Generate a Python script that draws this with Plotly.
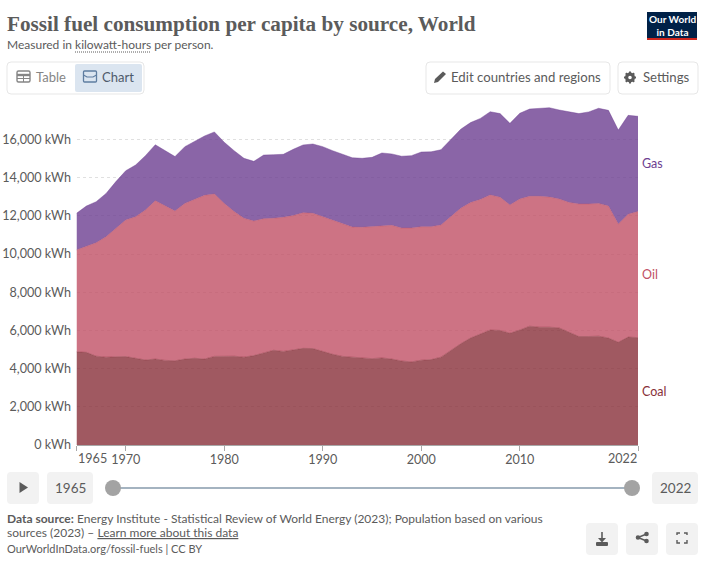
import plotly.graph_objects as go

W, H = 705, 561

years = list(range(1965, 2023))
coal = [4880, 4850, 4650, 4600, 4620, 4630, 4540, 4450, 4500, 4430, 4410, 4500, 4540, 4500, 4640,
        4660, 4650, 4600, 4680, 4820, 4960, 4900, 5000, 5060, 5050, 4880, 4750, 4640, 4600, 4540,
        4520, 4560, 4500, 4400, 4350, 4440, 4470, 4600, 4950, 5300, 5600, 5800, 6020, 6000, 5850,
        6020, 6220, 6170, 6170, 6130, 5900, 5680, 5680, 5700, 5600, 5380, 5650, 5620]
oil = [5330, 5570, 5940, 6300, 6720, 7150, 7410, 7850, 8290, 8080, 7840, 8150, 8340, 8570, 8500,
       7990, 7570, 7270, 7050, 7030, 6910, 7020, 7010, 7100, 7080, 7070, 6980, 6930, 6810, 6860,
       6910, 6930, 7000, 6960, 7010, 6990, 6960, 6920, 7000, 7090, 7090, 7060, 7070, 6970, 6720,
       6860, 6800, 6850, 6810, 6750, 6800, 6940, 6940, 6950, 6910, 6190, 6430, 6610]
gas = [1920, 2090, 2150, 2270, 2450, 2580, 2710, 2850, 2930, 2900, 2850, 2970, 3000, 3110, 3250,
       3200, 3190, 3140, 3120, 3330, 3330, 3300, 3470, 3550, 3630, 3670, 3680, 3650, 3630, 3610,
       3630, 3800, 3740, 3760, 3790, 3910, 3920, 3940, 4020, 4140, 4190, 4240, 4360, 4380, 4270,
       4490, 4570, 4620, 4680, 4660, 4740, 4730, 4820, 4980, 5010, 4920, 5180, 4980]

y_ticks = [0, 2000, 4000, 6000, 8000, 10000, 12000, 14000, 16000]
y_ticktext = ["0 kWh", "2,000 kWh", "4,000 kWh", "6,000 kWh", "8,000 kWh", "10,000 kWh", "12,000 kWh",
              "14,000 kWh", "16,000 kWh"]
x_ticks = [1965, 1970, 1980, 1990, 2000, 2010, 2022]
x_ticktext = ["", "1970", "1980", "1990", "2000", "2010", ""]

FONT = "Lato"
GREY = "#5b5b5b"
BTN = "#f2f2f2"
BORDER = "#e7e7e7"


# pixel helpers, everything outside the plot is placed in page pixels
def fx(x):
    return x / W


def fy(y):
    return 1 - y / H


def rrect(x0, y0, x1, y1, r=4, fill=None, line=None, width=1):
    p = (f"M{fx(x0 + r)},{fy(y0)} L{fx(x1 - r)},{fy(y0)} Q{fx(x1)},{fy(y0)} {fx(x1)},{fy(y0 + r)} "
         f"L{fx(x1)},{fy(y1 - r)} Q{fx(x1)},{fy(y1)} {fx(x1 - r)},{fy(y1)} "
         f"L{fx(x0 + r)},{fy(y1)} Q{fx(x0)},{fy(y1)} {fx(x0)},{fy(y1 - r)} "
         f"L{fx(x0)},{fy(y0 + r)} Q{fx(x0)},{fy(y0)} {fx(x0 + r)},{fy(y0)} Z")
    return dict(type="path", xref="paper", yref="paper", path=p,
                fillcolor=fill or "rgba(0,0,0,0)", line=dict(color=line or "rgba(0,0,0,0)", width=width))


def poly(pts, fill=None, line=None, width=1, close=True):
    p = "M" + " L".join(f"{fx(a)},{fy(b)}" for a, b in pts) + (" Z" if close else "")
    return dict(type="path", xref="paper", yref="paper", path=p,
                fillcolor=fill or "rgba(0,0,0,0)", line=dict(color=line or "rgba(0,0,0,0)", width=width))


def seg(x0, y0, x1, y1, color, width=1, dash="solid"):
    return dict(type="line", xref="paper", yref="paper", x0=fx(x0), y0=fy(y0), x1=fx(x1), y1=fy(y1),
                line=dict(color=color, width=width, dash=dash))


def dot(cx, cy, r, color):
    return dict(type="circle", xref="paper", yref="paper", x0=fx(cx - r), x1=fx(cx + r),
                y0=fy(cy + r), y1=fy(cy - r), fillcolor=color, line=dict(width=0))


def txt(x, y, s, size=13, color=GREY, anchor="left", family=FONT):
    # left anchored annotations land 1px to the right
    if anchor == "left":
        x = x - 1
    return dict(xref="paper", yref="paper", x=fx(x), y=fy(y), text=s, showarrow=False, xanchor=anchor,
                yanchor="middle", borderpad=0, font=dict(family=family, size=size, color=color),
                align="center" if anchor == "center" else "left")


fig = go.Figure()
for name, vals, fill in [("Coal", coal, "rgba(136,48,57,0.8)"),
                         ("Oil", oil, "rgba(193,80,101,0.8)"),
                         ("Gas", gas, "rgba(109,62,145,0.8)")]:
    fig.add_trace(go.Scatter(x=years, y=vals, name=name, mode="lines", stackgroup="one",
                             line=dict(width=0.5, color=fill), fillcolor=fill))

shapes = [
    rrect(7, 62, 144, 94, 4, "white", BORDER),
    rrect(75, 64, 142, 92, 2, "#dbe5f0"),
    rrect(17, 71, 30, 82, 1.5, None, "#858585", 1.4),
    seg(17, 75, 30, 75, "#858585", 2.4),
    seg(17, 78.5, 30, 78.5, "#858585", 1),
    seg(23.5, 74, 23.5, 82, "#858585", 1),
    rrect(83.5, 71, 96.5, 82, 1, None, "#5f7da0", 1.3),
    poly([(83.5, 75), (87, 77), (93, 77), (96.5, 75)], None, "#5f7da0", 1.2, close=False),
    rrect(426, 62, 610, 94, 4, "white", BORDER),
    rrect(618, 62, 698, 94, 4, "white", BORDER),
    poly([(434, 83), (435, 79), (443, 71.5), (446, 74), (438, 82)], "#5b5b5b"),
    dot(630, 77.5, 5, "#5b5b5b"),
    seg(630, 71.5, 630, 83.5, "#5b5b5b", 2),
    seg(624, 77.5, 636, 77.5, "#5b5b5b", 2),
    seg(625.8, 73.3, 634.2, 81.7, "#5b5b5b", 2),
    seg(625.8, 81.7, 634.2, 73.3, "#5b5b5b", 2),
    dot(630, 77.5, 1.8, "white"),
    dict(type="rect", xref="paper", yref="paper", x0=fx(647), x1=fx(697), y0=fy(40), y1=fy(12),
         fillcolor="#002147", line=dict(width=0)),
    dict(type="rect", xref="paper", yref="paper", x0=fx(647), x1=fx(697), y0=fy(40), y1=fy(38),
         fillcolor="#ce261e", line=dict(width=0)),
    seg(75, 52, 151, 52, "#5b5b5b", 1, "1px,1px"),
    rrect(7, 472, 39, 504, 4, BTN),
    poly([(19.5, 482), (28, 487.5), (19.5, 493)], "#5b5b5b"),
    rrect(47, 472, 93, 504, 4, BTN),
    rrect(652, 472, 698, 504, 4, BTN),
    seg(113, 488, 632, 488, "#a4b3c0", 2),
    dot(113, 488, 8, "#a3a3a3"),
    dot(632, 488, 8, "#a3a3a3"),
    rrect(586, 523, 618, 555, 4, BTN),
    rrect(626, 523, 658, 555, 4, BTN),
    rrect(666, 523, 698, 555, 4, BTN),
    seg(602, 532, 602, 541, "#5b5b5b", 1.6),
    poly([(598, 538), (602, 542.5), (606, 538)], "#5b5b5b"),
    rrect(596, 542, 608, 546, 1, "#5b5b5b"),
    seg(638, 537.5, 646.5, 534, "#5b5b5b", 1.4),
    seg(638, 537.5, 646.5, 541, "#5b5b5b", 1.4),
    dot(638, 537.5, 2.3, "#5b5b5b"),
    dot(646.5, 534, 2.3, "#5b5b5b"),
    dot(646.5, 541, 2.3, "#5b5b5b"),
    poly([(677, 535), (677, 533), (680, 533)], None, "#5b5b5b", 1.4, close=False),
    poly([(684, 533), (687, 533), (687, 535)], None, "#5b5b5b", 1.4, close=False),
    poly([(677, 540), (677, 543), (680, 543)], None, "#5b5b5b", 1.4, close=False),
    poly([(684, 543), (687, 543), (687, 540)], None, "#5b5b5b", 1.4, close=False),
]

annotations = [
    txt(7, 24, "<b>Fossil fuel consumption per capita by source, World</b>", 21.2, "#5b5b5b", family="Liberation Serif"),
    txt(7, 44.5, "Measured in kilowatt-hours per person.", 12),
    txt(36, 77, "Table", 13, "#858585"),
    txt(102, 77, "Chart", 13, "#4e5a6b"),
    txt(451, 77, "Edit countries and regions", 13.2),
    txt(643, 76.5, "Settings", 13.2),
    txt(672, 25.5, "<b>Our World<br>in Data</b>", 10, "white", "center"),
    txt(642, 163.5, "Gas", 12.5, "#6d3e91"),
    txt(642, 274.5, "Oil", 12.5, "#c15065"),
    txt(642, 391.5, "Coal", 12.5, "#883039"),
    txt(70, 487.5, "1965", 13.5, anchor="center"),
    txt(675, 487.5, "2022", 13.5, anchor="center"),
    txt(7, 518, "<b>Data source:</b> Energy Institute - Statistical Review of World Energy (2023); Population based on various", 12),
    txt(7, 532, "sources (2023) – <u>Learn more about this data</u>", 12),
    txt(7, 548, "OurWorldInData.org/fossil-fuels | CC BY", 11),
    dict(xref="x", yref="paper", x=1965, y=fy(458), text="1965", showarrow=False, xanchor="left", yanchor="middle",
         borderpad=0, font=dict(family=FONT, size=12.6, color=GREY)),
    dict(xref="x", yref="paper", x=2022, y=fy(458), text="2022", showarrow=False, xanchor="right", yanchor="middle",
         borderpad=0, font=dict(family=FONT, size=12.6, color=GREY)),
]

fig.update_layout(
    width=W, height=H, margin=dict(l=0, r=0, t=0, b=0, autoexpand=False), autosize=False,
    paper_bgcolor="white", plot_bgcolor="white", showlegend=False,
    font=dict(family=FONT, size=13, color=GREY),
    shapes=shapes, annotations=annotations,
)
fig.update_xaxes(domain=[fx(76.5), fx(638)], range=[1965, 2022], tickmode="array", tickvals=x_ticks,
                 ticktext=x_ticktext, ticks="outside", ticklen=5, tickcolor="#a8a8a8", showgrid=False,
                 showline=True, linecolor="#a8a8a8", linewidth=1, zeroline=False, ticklabelstandoff=-2,
                 tickfont=dict(family=FONT, size=12.6, color=GREY))
fig.update_yaxes(domain=[fy(445), fy(100)], range=[0, 18063], tickmode="array", tickvals=y_ticks,
                 ticktext=y_ticktext, showgrid=True, gridcolor="#e0e0e0", griddash="dot",
                 gridwidth=1, zeroline=False, showline=False, ticks="outside", ticklen=2,
                 tickcolor="rgba(0,0,0,0)", tickfont=dict(family=FONT, size=12.6, color=GREY))

fig.write_html("out.html", post_script="document.body.style.margin='0';", config=dict(displayModeBar=False))
